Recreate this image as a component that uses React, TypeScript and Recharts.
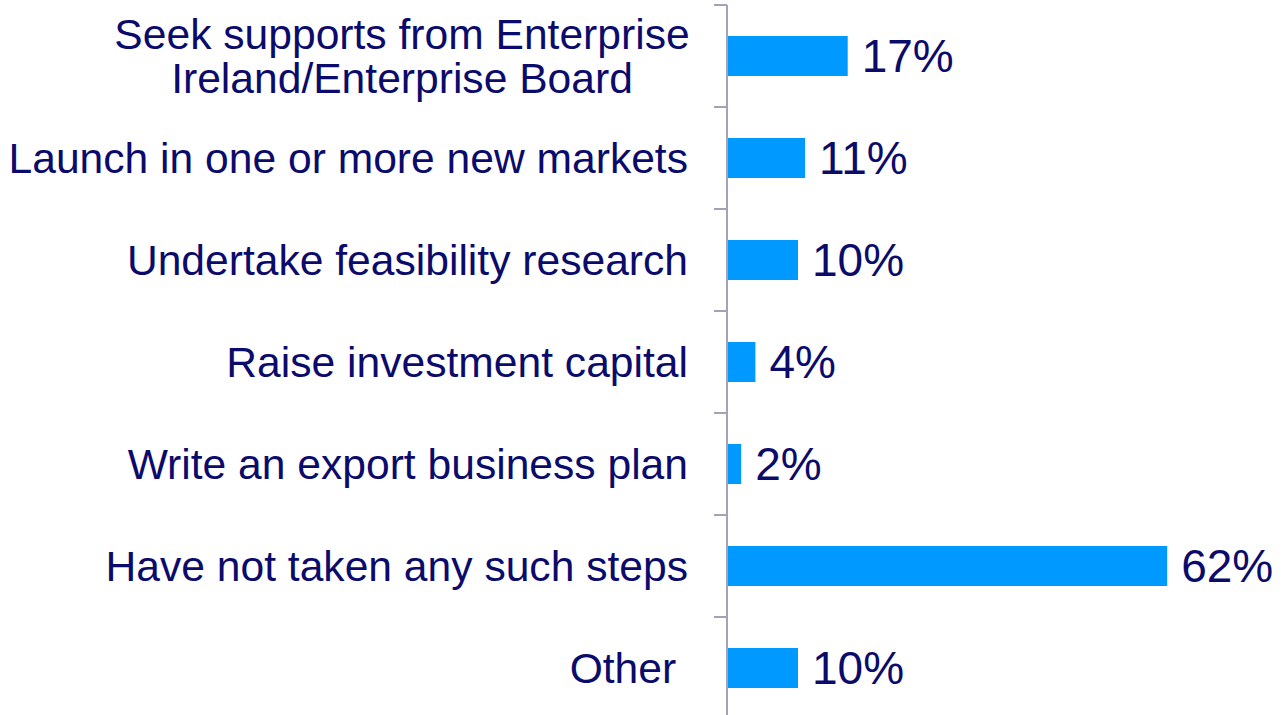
import { BarChart, Bar, XAxis, YAxis, LabelList } from 'recharts';

const categories = [
  'Seek supports from Enterprise|Ireland/Enterprise Board',
  'Launch in one or more new markets',
  'Undertake feasibility research',
  'Raise investment capital',
  'Write an export business plan',
  'Have not taken any such steps',
  'Other\u00A0',
];

const shares = [17, 11, 10, 4, 2, 62, 10];

const data = categories.map((name, i) => ({ name, value: shares[i] }));

const NAVY = '#0b0b6b';
const BAR = '#0099ff';
const AXIS = '#a3a3b5';
const FONT = '"Liberation Sans", Arial, sans-serif';

const CHART_H = 722;
const MARGIN = { top: 5, right: 59, bottom: 3, left: 0 };
const BAND = (CHART_H - MARGIN.top - MARGIN.bottom) / categories.length;

// category tick: label plus boundary tick marks (ticks sit between bands)
function CategoryTick(props: any) {
  const { x, y, payload, index } = props;
  const lines = String(payload.value).split('|');
  const textX = x - 39;
  const midX = x - 325;
  return (
    <g>
      <line x1={x - 13} x2={x} y1={y - BAND / 2} y2={y - BAND / 2} stroke={AXIS} strokeWidth={2} />
      {index === categories.length - 1 && (
        <line x1={x - 13} x2={x} y1={y + BAND / 2} y2={y + BAND / 2} stroke={AXIS} strokeWidth={2} />
      )}
      {lines.length === 1 ? (
        <text x={textX} y={y} dy="0.355em" textAnchor="end" fill={NAVY} fontSize={42.6} fontFamily={FONT}>
          {lines[0]}
        </text>
      ) : (
        <text x={midX} y={y} textAnchor="middle" fill={NAVY} fontSize={42.6} fontFamily={FONT}>
          {lines.map((l, i) => (
            <tspan key={i} x={midX} dy={i === 0 ? -7 : 44}>
              {l}
            </tspan>
          ))}
        </text>
      )}
    </g>
  );
}

export default function App() {
  return (
    <div style={{ width: 1283, height: 715, overflow: 'hidden', background: '#fff' }}>
      <style>{'body{margin:0}'}</style>
      <BarChart
        width={1283}
        height={CHART_H}
        data={data}
        layout="vertical"
        margin={MARGIN}
      >
        <XAxis type="number" domain={[0, 70]} hide />
        <YAxis
          type="category"
          dataKey="name"
          width={727}
          axisLine={{ stroke: AXIS, strokeWidth: 2 }}
          tickLine={false}
          tickSize={0}
          tickMargin={0}
          tick={<CategoryTick />}
          interval={0}
        />
        <Bar dataKey="value" fill={BAR} barSize={40} isAnimationActive={false}>
          <LabelList
            dataKey="value"
            position="right"
            offset={14}
            formatter={(v: any) => `${v}%`}
            fill={NAVY}
            fontSize={46}
            fontFamily={FONT}
          />
        </Bar>
      </BarChart>
    </div>
  );
}
